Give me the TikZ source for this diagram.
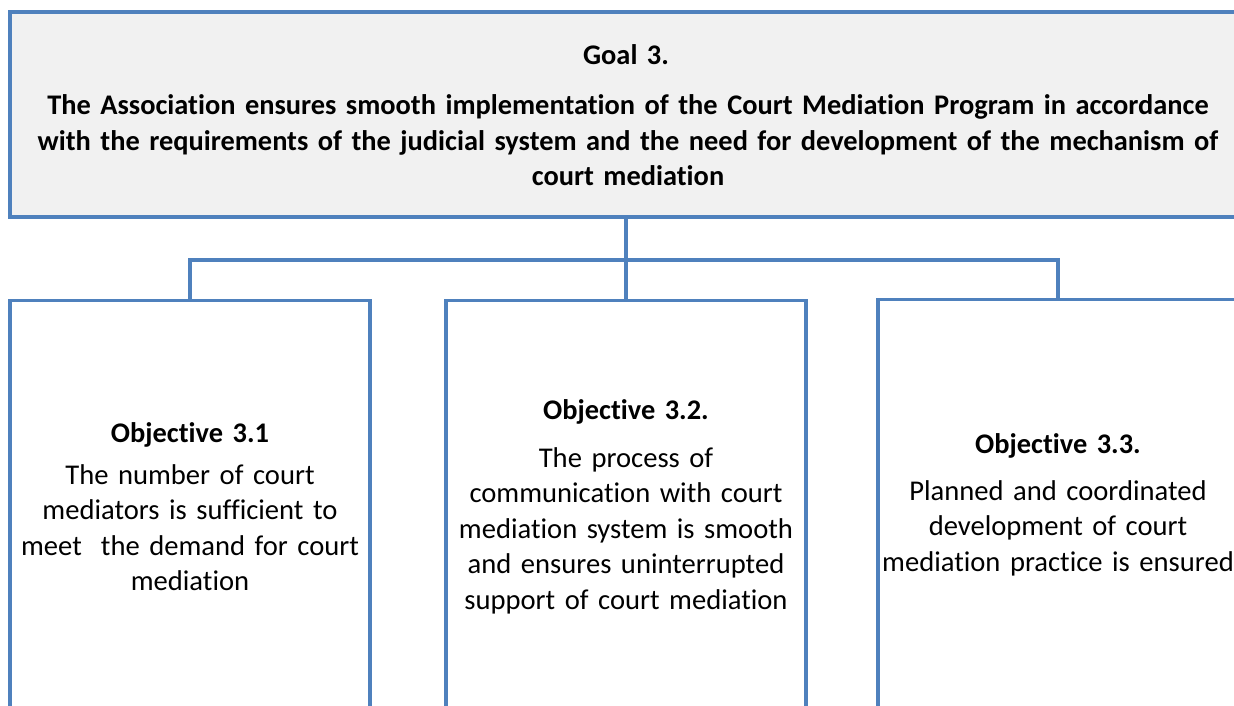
\documentclass[tikz,border=0pt]{standalone}
\usepackage{fontspec}
\setmainfont{Carlito}[Ligatures={NoCommon}]
\definecolor{edge}{HTML}{4F81BD}
\definecolor{goalfill}{HTML}{F1F1F1}
\begin{document}
\begin{tikzpicture}[x=1pt,y=-1pt,
  panel/.style={draw=edge,line width=3.2pt,rectangle,inner sep=0pt},
  goalbox/.style={panel,fill=goalfill,minimum width=1232pt,minimum height=205pt},
  objbox/.style={panel,fill=white,minimum width=360pt,minimum height=500pt,anchor=north},
  link/.style={draw=edge,line width=3.2pt},
  headtext/.style={inner sep=0pt,anchor=base,align=center,text width=#1,
    font=\fontsize{28.4}{35.5}\selectfont\bfseries},
  bodytext/.style={inner sep=0pt,anchor=base,align=center,text width=#1,
    font=\fontsize{28.6}{35.5}\selectfont}
]
\clip (0,0) rectangle (1234,706);
\fill[white] (0,0) rectangle (1234,706);

% goal panel
\node[goalbox] (goal) at (626,114.5) {};
\node[headtext=400pt] (goaltitle) at (626,65) {Goal 3.};
\node[headtext=1220pt] (goalbody) at (628,115)
  {The Association ensures smooth implementation of the Court Mediation Program in accordance\\
   with the requirements of the judicial system and the need for development of the mechanism of\\
   court mediation};

% junction of the tree connector
\coordinate (j) at (626,260);

% objective panels
\node[objbox] (o1) at (190,299) {};
\node[objbox] (o2) at (626,299) {};
\node[objbox] (o3) at (1058,298) {};

% connectors
\draw[link] (goal.south) -- (j);
\draw[link] (j) -| (o1.north);
\draw[link] (j) -| (o3.north);
\draw[link] (j) -- (o2.north);

% objective texts
\node[headtext=340pt] (t1) at (190,442) {Objective 3.1};
\node[bodytext=350pt] (b1) at (190,484)
  {The number of court\\ mediators is sufficient to\\ meet\ \ the demand for court\\ mediation};

\node[headtext=340pt] (t2) at (626,419) {Objective 3.2.};
\node[bodytext=350pt] (b2) at (626,467)
  {The process of\\ communication with court\\ mediation system is smooth\\ and ensures uninterrupted\\ support of court mediation};

\node[headtext=340pt] (t3) at (1058,453) {Objective 3.3.};
\node[bodytext=360pt] (b3) at (1058,500)
  {Planned and coordinated\\ development of court\\ mediation practice is ensured};
\end{tikzpicture}
\end{document}
